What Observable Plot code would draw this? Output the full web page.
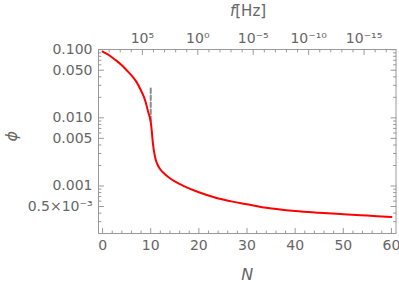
<!DOCTYPE html>
<html>
<head>
<meta charset="utf-8">
<script src="https://cdn.jsdelivr.net/npm/d3@7"></script>
<script src="https://cdn.jsdelivr.net/npm/@observablehq/plot@0.6"></script>
<style>
  html, body { margin: 0; padding: 0; background: #fff; }
  #chart svg { display: block; }
</style>
</head>
<body>
<div id="chart"></div>
<script>
// ---- data ----
const curveN   = [0, 1, 2, 3, 4, 5, 6, 7, 8, 8.5, 9, 9.5, 10, 10.2, 10.4, 10.6, 10.8, 11, 11.5, 12, 13, 14, 15, 17, 20, 23, 27, 30, 34, 40, 45, 50, 55, 60];
const curvePhi = [0.094, 0.086, 0.077, 0.068, 0.059, 0.050, 0.042, 0.034, 0.025, 0.021, 0.0165, 0.0120, 0.0087, 0.0066, 0.0046, 0.0035, 0.0029, 0.0025, 0.0020, 0.00175, 0.00148, 0.00130, 0.00117, 0.00099, 0.00081, 0.00069, 0.00059, 0.00054, 0.00048, 0.00043, 0.000405, 0.000385, 0.000368, 0.000352];

const markerN = [10, 10];
const markerPhi = [0.027, 0.0086];

// ticks
const xMajor = [0, 10, 20, 30, 40, 50, 60];
const xMinor = d3.range(0, 61, 2).filter(v => v % 10 !== 0);
const yMajor = [0.1, 0.05, 0.01, 0.005, 0.001, 0.0005];
const yLabels = ["0.100", "0.050", "0.010", "0.005", "0.001", "0.5×10⁻³"];
const yMinorMant = [2, 3, 4, 6, 7, 8, 9];
const yDecades = [0.01, 0.001, 0.0001];
const fExponents = [5, 0, -5, -10, -15];
const fLabels = ["10⁵", "10⁰", "10⁻⁵", "10⁻¹⁰", "10⁻¹⁵"];
const fMinorExponents = d3.range(8, -18, -1).filter(k => k % 5 !== 0);
const log10f0 = 8.59; // f = f0 · e^(−N)

// ---- derived tables ----
const curve = curveN.map((n, i) => ({N: n, phi: curvePhi[i]}));
const marker = markerN.map((n, i) => ({N: n, phi: markerPhi[i]}));
const yMinor = yDecades.flatMap(d => yMinorMant.map(m => m * d)).filter(v => v > 0.0002 && v < 0.1);
const yTickTable = yMajor.map((v, i) => ({v, label: yLabels[i]}));
const fToN = k => (log10f0 - k) * Math.LN10;
const topMajor = fExponents.map(fToN);
const topLabelMap = new Map(topMajor.map((v, i) => [v, fLabels[i]]));
const topMinor = fMinorExponents.map(fToN).filter(n => n > -0.8 && n < 60.9);

const tickLine = {draw(context, l) { context.moveTo(0, 0); context.lineTo(0, -l); }};
const gray = "#999";
const textCol = "#666";
const font = "DejaVu Sans";

function ticks(data, ch, anchor, rotate, len) {
  return Plot.vector(data, {[ch]: d => d, frameAnchor: anchor, rotate, length: len, anchor: "start", shape: tickLine, stroke: gray, strokeWidth: 1});
}

const chart = Plot.plot({
  width: 399,
  height: 282,
  marginLeft: 98,
  marginRight: 3.5,
  marginTop: 49,
  marginBottom: 49,
  style: {fontFamily: font, background: "#fff", color: textCol},
  x: {domain: [-0.85, 60.95]},
  y: {type: "log", domain: [0.000201, 0.1007], axis: null},
  marks: [
    Plot.frame({stroke: gray, strokeWidth: 1}),
    // ticks (inward)
    ticks(xMajor, "x", "bottom", 0, 5),
    ticks(xMinor, "x", "bottom", 0, 2.5),
    ticks(topMajor, "x", "top", 180, 5),
    ticks(topMinor, "x", "top", 180, 2.5),
    ticks(yMajor, "y", "left", 90, 5),
    ticks(yMinor, "y", "left", 90, 2.5),
    ticks(yMajor, "y", "right", -90, 5),
    ticks(yMinor, "y", "right", -90, 2.5),
    // tick labels
    Plot.axisX(xMajor, {anchor: "bottom", tickSize: 0, tickPadding: 7, fontSize: 14, fill: textCol, label: null}),
    Plot.axisX(topMajor, {anchor: "top", tickSize: 0, tickPadding: 7, fontSize: 14, fill: textCol, label: null, tickFormat: d => topLabelMap.get(d)}),
    Plot.text(yTickTable, {y: "v", text: "label", frameAnchor: "left", textAnchor: "end", dx: -6, fontSize: 14, fill: textCol}),
    // axis titles
    Plot.text(["f"], {frameAnchor: "top", lineAnchor: "bottom", textAnchor: "end", dx: -12, dy: -34, fontSize: 15, fontStyle: "italic", fill: textCol}),
    Plot.text(["[Hz]"], {frameAnchor: "top", lineAnchor: "bottom", textAnchor: "start", dx: -12, dy: -34, fontSize: 15, fill: textCol}),
    Plot.text(["N"], {frameAnchor: "bottom", lineAnchor: "bottom", dy: 46, fontSize: 16, fontStyle: "italic", fill: textCol}),
    Plot.text(["ϕ"], {frameAnchor: "left", rotate: -90, dx: -87, fontSize: 16, fontStyle: "italic", fill: textCol}),
    // data
    Plot.line(marker, {x: "N", y: "phi", stroke: "#8a8a8a", strokeWidth: 2, strokeDasharray: "4.5,2.5"}),
    Plot.line(curve, {x: "N", y: "phi", stroke: "#ff0000", strokeWidth: 2, curve: "monotone-x"})
  ]
});
document.getElementById("chart").append(chart);
</script>
</body>
</html>
